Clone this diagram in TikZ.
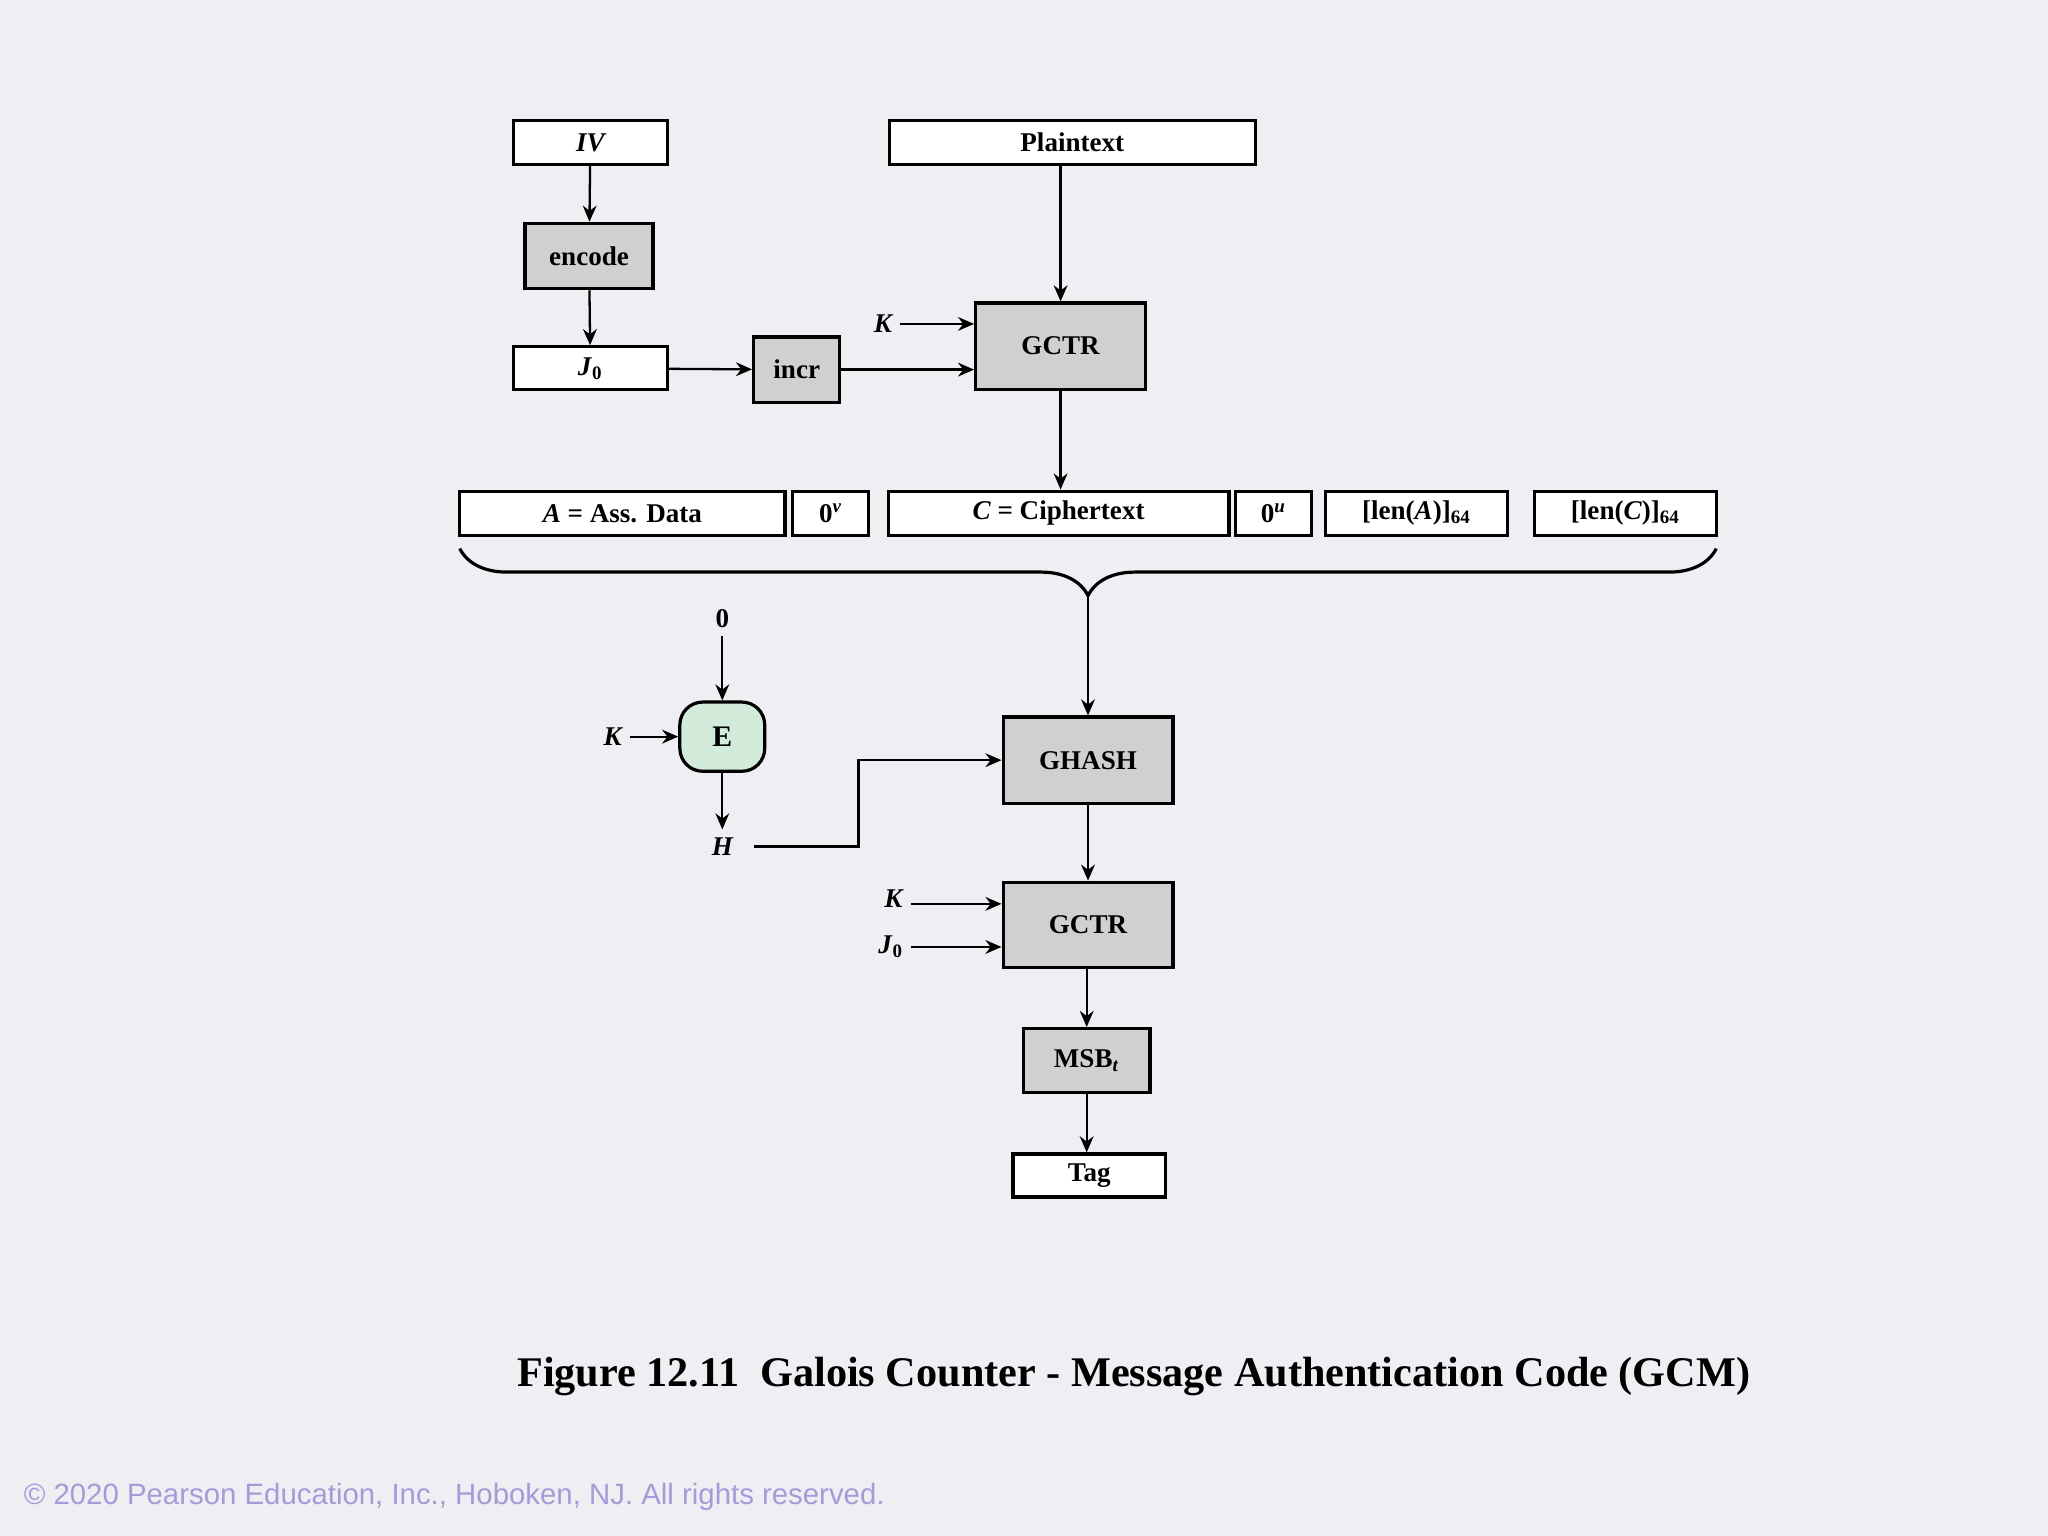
\documentclass[tikz,border=0pt]{standalone}
\usepackage{fontspec}
\setmainfont{Liberation Serif}
\newfontfamily\sansf{Liberation Sans}
\usetikzlibrary{arrows.meta,decorations.pathreplacing}
\definecolor{bg}{HTML}{EFEEF3}
\definecolor{boxgray}{HTML}{D0D0D3}
\definecolor{egreen}{HTML}{D3EBDB}
\definecolor{copy}{HTML}{A29CD8}
\newcommand{\bsub}[1]{\textsubscript{\textbf{#1}}}
\begin{document}
\begin{tikzpicture}[x=0.02cm,y=-0.02cm,
  box/.style={draw=black,line width=1.4pt,fill=white,inner sep=0pt,font=\bfseries\fontsize{11.8}{13}\selectfont},
  gbox/.style={box,fill=boxgray},
  lab/.style={font=\bfseries\fontsize{11.8}{13}\selectfont},
  arr/.style={-{Stealth[length=7pt,width=6pt]},line width=1pt}]
\fill[bg] (0,0) rectangle (1568,1176);
\useasboundingbox (0,0) rectangle (1568,1176);
\node[box,minimum width=2.36cm,minimum height=0.68cm] (iv) at (452,109) {\itshape IV};
\node[gbox,minimum width=1.96cm,minimum height=1.0cm] (enc) at (451,196) {encode};
\node[box,minimum width=2.36cm,minimum height=0.66cm] (j0) at (452,282) {\textit{J}\bsub{0}};
\node[gbox,minimum width=1.32cm,minimum height=1.0cm] (incr) at (610,283) {incr};
\node[box,minimum width=5.6cm,minimum height=0.68cm] (pt) at (821,109) {Plaintext};
\node[gbox,minimum width=2.6cm,minimum height=1.32cm] (g1) at (812,265) {GCTR};
\node[lab] (k1) at (676,248) {\itshape K};
\node[box,minimum width=4.98cm,minimum height=0.68cm] (a) at (476.5,393) {\itshape A\upshape\ = Ass. Data};
\node[box,minimum width=1.16cm,minimum height=0.68cm] (ov) at (636,393) {0\textsuperscript{\textit{v}}};
\node[box,minimum width=5.22cm,minimum height=0.68cm] (c) at (810.5,393) {\itshape C\upshape\ = Ciphertext};
\node[box,minimum width=1.16cm,minimum height=0.68cm] (ou) at (975,393) {0\textsuperscript{\textit{u}}};
\node[box,minimum width=2.78cm,minimum height=0.68cm] (la) at (1084.5,393) {[len(\textit{A})]\bsub{64}};
\node[box,minimum width=2.78cm,minimum height=0.68cm] (lc) at (1244.5,393) {[len(\textit{C})]\bsub{64}};
\draw[line width=1.4pt,decorate,decoration={brace,mirror,amplitude=0.72cm}] (352,420) -- (1314,420);
\coordinate (tip) at (833,456);
\node[gbox,minimum width=2.6cm,minimum height=1.32cm] (gh) at (833,582) {GHASH};
\node[lab] (zero) at (553,474) {0};
\node[draw,line width=1.4pt,fill=egreen,rounded corners=0.35cm,minimum width=1.3cm,minimum height=1.06cm,font=\bfseries\fontsize{13}{15}\selectfont] (e) at (553,564) {E};
\node[lab] (k2) at (469,564) {\itshape K};
\node[lab] (h) at (553,648) {\itshape H};
\node[gbox,minimum width=2.6cm,minimum height=1.3cm] (g2) at (833,708) {GCTR};
\node[lab] (k3) at (684,688) {\itshape K};
\node[lab] (j3) at (682,725) {\textit{J}\bsub{0}};
\node[gbox,minimum width=1.94cm,minimum height=0.98cm] (msb) at (832,812) {MSB\bsub{\textit{t}}};
\node[box,minimum width=2.34cm,minimum height=0.66cm] (tag) at (834,900) {Tag};
\draw[arr] (iv) -- (enc);
\draw[arr] (enc) -- (j0);
\draw[arr] (j0) -- (incr);
\draw[arr] (incr.east) -- (incr.east -| g1.west);
\draw[arr] (k1.east) -- (k1.east -| g1.west);
\draw[arr] (pt.south -| g1.north) -- (g1.north);
\draw[arr] (g1.south) -- (g1.south |- c.north);
\draw[arr] (tip) -- (tip |- gh.north);
\draw[arr] (zero) -- (e);
\draw[arr] (k2) -- (e);
\draw[arr] (e) -- (h.north);
\draw[arr] ([xshift=0.2cm]h.east) -- ++(80,0) |- (gh.west);
\draw[arr] (gh) -- (g2);
\draw[arr] ([yshift=-0.08cm]k3.east) -- ([yshift=-0.08cm]k3.east -| g2.west);
\draw[arr] (j3.east) -- (j3.east -| g2.west);
\draw[arr] (g2.south -| msb.north) -- (msb.north);
\draw[arr] (msb.south) -- (msb.south |- tag.north);
\node[font=\bfseries\fontsize{18.4}{22}\selectfont] (cap) at (868,1054) {Figure 12.11\ \ Galois Counter - Message Authentication Code (GCM)};
\node[font=\sansf\fontsize{12.8}{15}\selectfont,text=copy,anchor=west] (cr) at (12,1146) {© 2020 Pearson Education, Inc., Hoboken, NJ. All rights reserved.};
\end{tikzpicture}
\end{document}
